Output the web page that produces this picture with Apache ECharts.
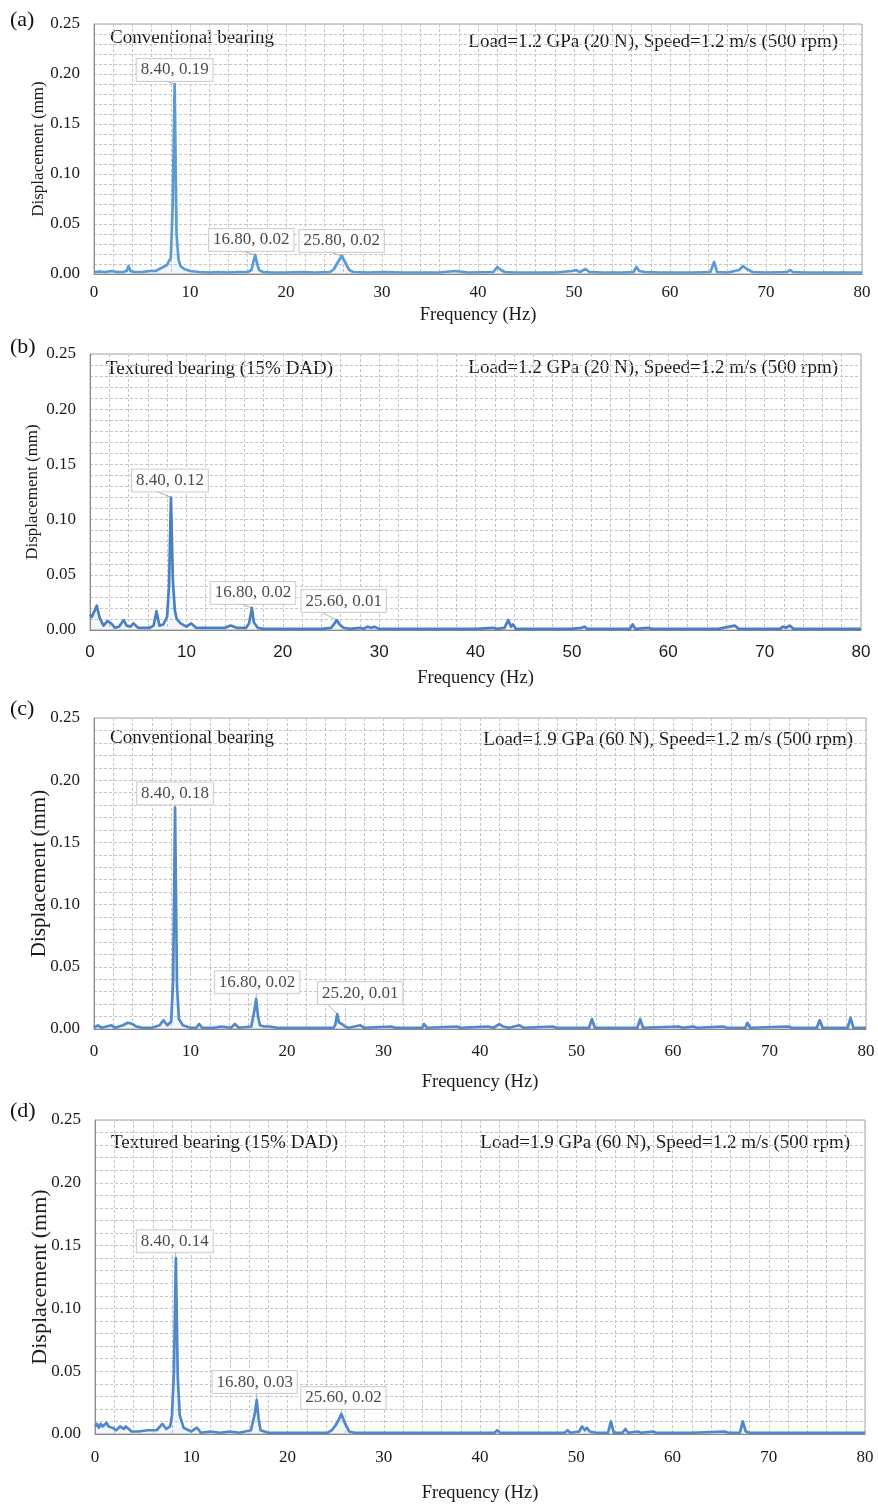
<!DOCTYPE html>
<html>
<head>
<meta charset="utf-8">
<script src="https://cdn.jsdelivr.net/npm/echarts@6/dist/echarts.min.js"></script>
<style>
  html, body { margin: 0; padding: 0; background: #fff; }
  #chart { width: 878px; height: 1504px; }
</style>
</head>
<body>
<div id="chart"></div>
<script>
// spectra: [frequency (Hz), displacement (mm)]
const specA = [[0,0.002],[0.6,0.0025],[1.2,0.002],[1.8,0.003],[2.4,0.002],[3.0,0.002],[3.4,0.003],[3.6,0.008],[3.8,0.003],[4.2,0.002],[5.0,0.002],[5.8,0.003],[6.4,0.003],[6.8,0.005],[7.2,0.007],[7.6,0.009],[7.8,0.013],[8.0,0.016],[8.2,0.07],[8.4,0.19],[8.6,0.04],[8.8,0.015],[9.0,0.008],[9.4,0.005],[10.0,0.003],[11,0.002],[12,0.0015],[13,0.002],[14,0.0015],[15,0.002],[16,0.002],[16.4,0.004],[16.6,0.012],[16.8,0.019],[17.0,0.01],[17.2,0.004],[17.6,0.002],[18.5,0.0015],[20,0.0015],[21.5,0.002],[23,0.0015],[24.6,0.002],[25.0,0.005],[25.4,0.012],[25.8,0.018],[26.2,0.011],[26.6,0.004],[27.0,0.002],[28.5,0.0015],[30.2,0.002],[32,0.0015],[34,0.0015],[36,0.0015],[37.6,0.003],[39,0.0015],[41.6,0.002],[42.0,0.007],[42.4,0.004],[42.8,0.002],[44,0.0015],[46,0.0015],[48,0.0015],[49.8,0.003],[50.2,0.004],[50.6,0.002],[51.2,0.005],[51.6,0.002],[53,0.0015],[55,0.0015],[56.2,0.002],[56.5,0.007],[56.8,0.003],[57.4,0.002],[59,0.0015],[61,0.0015],[62.5,0.0015],[64.2,0.002],[64.6,0.012],[64.9,0.002],[66,0.0015],[67.2,0.004],[67.6,0.008],[68.0,0.005],[68.6,0.002],[70,0.0015],[72.2,0.002],[72.5,0.004],[72.8,0.002],[74,0.0015],[76,0.0015],[78,0.0015],[80,0.0015]];
const specB = [[0,0.014],[0.2,0.012],[0.4,0.016],[0.7,0.022],[1.0,0.011],[1.4,0.004],[1.8,0.008],[2.2,0.006],[2.6,0.002],[3.0,0.003],[3.5,0.009],[3.8,0.004],[4.2,0.003],[4.5,0.006],[5.0,0.002],[5.6,0.002],[6.2,0.002],[6.6,0.004],[6.9,0.017],[7.2,0.004],[7.6,0.005],[8.0,0.012],[8.2,0.04],[8.4,0.12],[8.6,0.045],[8.8,0.018],[9.0,0.01],[9.4,0.006],[10.0,0.003],[10.5,0.006],[11.0,0.002],[12,0.002],[13,0.002],[14,0.002],[14.6,0.004],[15.2,0.002],[16.2,0.002],[16.5,0.006],[16.8,0.02],[17.0,0.007],[17.4,0.002],[18,0.001],[20,0.001],[22,0.001],[24,0.001],[25.0,0.002],[25.3,0.005],[25.6,0.009],[25.9,0.005],[26.3,0.002],[27,0.001],[28,0.002],[28.4,0.001],[28.8,0.003],[29.2,0.002],[29.5,0.003],[30,0.001],[32,0.001],[34,0.001],[36,0.001],[38,0.001],[40,0.001],[41.8,0.002],[42.2,0.001],[43.0,0.002],[43.4,0.009],[43.7,0.003],[43.9,0.005],[44.2,0.001],[46,0.001],[48,0.001],[49.9,0.001],[51.0,0.002],[51.3,0.003],[51.6,0.001],[54,0.001],[56.0,0.001],[56.3,0.005],[56.6,0.001],[57.9,0.002],[58.3,0.001],[60,0.001],[62,0.001],[64,0.001],[65.2,0.001],[66.9,0.004],[67.3,0.001],[69,0.001],[71.6,0.001],[71.9,0.003],[72.2,0.002],[72.6,0.004],[73.0,0.001],[75,0.001],[78,0.001],[80,0.001]];
const specC = [[0,0.001],[0.4,0.003],[0.8,0.001],[1.8,0.003],[2.2,0.001],[3.0,0.003],[3.5,0.005],[4.0,0.004],[4.4,0.002],[5,0.001],[6,0.001],[6.8,0.003],[7.2,0.007],[7.6,0.003],[8.0,0.006],[8.2,0.04],[8.4,0.178],[8.6,0.035],[8.8,0.008],[9.2,0.003],[10,0.001],[10.6,0.001],[10.9,0.004],[11.2,0.001],[12.4,0.001],[13.2,0.002],[14.2,0.001],[14.6,0.004],[15,0.001],[16.3,0.002],[16.6,0.014],[16.8,0.024],[17.0,0.01],[17.2,0.003],[17.6,0.002],[18.2,0.002],[19,0.001],[21,0.001],[23,0.001],[24.8,0.001],[25.0,0.003],[25.2,0.012],[25.4,0.005],[25.7,0.004],[26.0,0.002],[26.4,0.001],[27.6,0.003],[28,0.001],[30.8,0.002],[31.2,0.001],[34.0,0.001],[34.2,0.004],[34.5,0.001],[37.6,0.002],[38,0.001],[40.8,0.002],[41.4,0.001],[42.0,0.004],[42.4,0.002],[43,0.001],[44.1,0.003],[44.5,0.001],[47.5,0.002],[48,0.001],[51.3,0.001],[51.6,0.008],[51.9,0.001],[56.3,0.001],[56.6,0.008],[56.9,0.001],[60.6,0.002],[61,0.001],[62.1,0.002],[62.5,0.001],[65.2,0.002],[65.6,0.001],[67.5,0.001],[67.7,0.005],[68,0.001],[71.9,0.002],[72.3,0.001],[74.9,0.001],[75.2,0.007],[75.5,0.001],[78.1,0.001],[78.4,0.009],[78.7,0.001],[80,0.001]];
const specD = [[0,0.006],[0.2,0.008],[0.4,0.005],[0.6,0.008],[0.8,0.006],[1.0,0.007],[1.2,0.009],[1.4,0.006],[1.8,0.005],[2.0,0.004],[2.2,0.003],[2.6,0.006],[3.0,0.004],[3.2,0.006],[3.4,0.005],[3.8,0.002],[4.5,0.002],[5.5,0.003],[6.4,0.003],[7.0,0.008],[7.4,0.004],[7.8,0.006],[8.0,0.015],[8.2,0.05],[8.4,0.14],[8.6,0.045],[8.8,0.015],[9.2,0.005],[10,0.002],[10.6,0.005],[11,0.001],[12,0.002],[13,0.001],[14,0.002],[15,0.001],[16.2,0.003],[16.6,0.016],[16.8,0.027],[17.0,0.012],[17.2,0.003],[18,0.001],[20,0.001],[22,0.001],[24.2,0.001],[24.6,0.003],[25.0,0.007],[25.3,0.011],[25.6,0.016],[26.0,0.008],[26.4,0.002],[27,0.001],[29,0.001],[32,0.001],[35,0.001],[38,0.001],[41.5,0.001],[41.8,0.003],[42.1,0.001],[46.0,0.001],[46.2,0.002],[46.4,0.001],[48.8,0.001],[49.1,0.003],[49.4,0.001],[50.3,0.002],[50.6,0.006],[50.9,0.003],[51.1,0.005],[51.4,0.002],[51.6,0.003],[52,0.001],[53.3,0.001],[53.6,0.01],[53.9,0.001],[54.8,0.001],[55.1,0.004],[55.4,0.001],[56.4,0.002],[56.7,0.001],[58.0,0.002],[58.3,0.001],[62,0.001],[65.4,0.002],[65.8,0.001],[67.0,0.001],[67.3,0.01],[67.6,0.002],[68,0.001],[70.5,0.001],[73,0.001],[76,0.001],[80,0.001]];

// annotated peaks and their callout texts
const peaksA = [[8.4,0.19],[16.8,0.019],[25.8,0.018]];
const peaksB = [[8.4,0.12],[16.8,0.02],[25.6,0.009]];
const peaksC = [[8.4,0.178],[16.8,0.024],[25.2,0.012]];
const peaksD = [[8.4,0.14],[16.8,0.027],[25.6,0.016]];
const peakTextA = ['8.40, 0.19','16.80, 0.02','25.80, 0.02'];
const peakTextB = ['8.40, 0.12','16.80, 0.02','25.60, 0.01'];
const peakTextC = ['8.40, 0.18','16.80, 0.02','25.20, 0.01'];
const peakTextD = ['8.40, 0.14','16.80, 0.03','25.60, 0.02'];

const panelLetters = ['(a)','(b)','(c)','(d)'];
const bearingNames = ['Conventional bearing','Textured bearing (15% DAD)','Conventional bearing','Textured bearing (15% DAD)'];
const conditions = [
  'Load=1.2 GPa (20 N), Speed=1.2 m/s (500 rpm)',
  'Load=1.2 GPa (20 N), Speed=1.2 m/s (500 rpm)',
  'Load=1.9 GPa (60 N), Speed=1.2 m/s (500 rpm)',
  'Load=1.9 GPa (60 N), Speed=1.2 m/s (500 rpm)'
];

const SERIF = '"Liberation Serif", "Times New Roman", serif';
const SANS = '"Liberation Sans", Arial, sans-serif';

// layout of the four panels
const panels = [
  { spec: specA, peaks: peaksA, texts: peakTextA, left: 94, top: 24, width: 768, height: 250, color: '#5b9bd5',
    xFont: SERIF, yNameSize: 17, xNameGap: 32, xLabelMargin: 10, yNameGap: 47,
    offs: [[0,-14],[-4,-15],[0,-15]], letterY: 21, titleY: 38, condY: 42, condX: 838 },
  { spec: specB, peaks: peaksB, texts: peakTextB, left: 90, top: 354, width: 771, height: 276, color: '#4a7fc4',
    xFont: SANS, yNameSize: 17, xNameGap: 39, xLabelMargin: 14, yNameGap: 49,
    offs: [[-1,-17],[1,-15],[7,-19]], letterY: 348, titleY: 369, condY: 368, condX: 838 },
  { spec: specC, peaks: peaksC, texts: peakTextC, left: 94, top: 718, width: 772, height: 311, color: '#4f88cc',
    xFont: SERIF, yNameSize: 21, xNameGap: 44, xLabelMargin: 14, yNameGap: 44,
    offs: [[0,-14],[1,-17],[23,-21]], letterY: 710, titleY: 738, condY: 740, condX: 853 },
  { spec: specD, peaks: peaksD, texts: peakTextD, left: 95, top: 1120, width: 770, height: 318, color: '#4f88cc',
    xFont: SERIF, yNameSize: 22, xNameGap: 50, xLabelMargin: 15, yNameGap: 44,
    offs: [[-1,-17],[-2,-18],[2,-16]], letterY: 1112, titleY: 1143, condY: 1143, condX: 850 }
];

const gridLine = { color: '#c6c6c6', width: 1, type: [3, 2] };

const option = {
  animation: false,
  backgroundColor: '#fff',
  grid: panels.map(p => ({
    left: p.left, top: p.top, width: p.width, height: p.height,
    show: true, borderColor: '#a8a8a8', borderWidth: 1, backgroundColor: 'transparent'
  })),
  xAxis: panels.map((p, i) => ({
    type: 'value', gridIndex: i, min: 0, max: 80, interval: 10,
    name: 'Frequency (Hz)', nameLocation: 'middle', nameGap: p.xNameGap, nameMoveOverlap: false,
    nameTextStyle: { fontFamily: SERIF, fontSize: 18.5, color: '#1a1a1a' },
    axisLine: { show: true, lineStyle: { color: '#8a8a8a', width: 1 } },
    axisTick: { show: false },
    axisLabel: { fontFamily: p.xFont, fontSize: 17, color: '#1a1a1a', margin: p.xLabelMargin },
    splitLine: { show: true, lineStyle: gridLine },
    minorTick: { show: false, splitNumber: 5 },
    minorSplitLine: { show: true, lineStyle: gridLine }
  })),
  yAxis: panels.map((p, i) => ({
    type: 'value', gridIndex: i, min: 0, max: 0.25, interval: 0.05,
    name: 'Displacement (mm)', nameLocation: 'middle', nameGap: p.yNameGap, nameRotate: 90,
    nameMoveOverlap: false,
    nameTextStyle: { fontFamily: SERIF, fontSize: p.yNameSize, color: '#1a1a1a' },
    axisLine: { show: true, lineStyle: { color: '#8a8a8a', width: 1 } },
    axisTick: { show: false },
    axisLabel: { fontFamily: SERIF, fontSize: 17, color: '#1a1a1a', margin: 14,
      formatter: v => v.toFixed(2) },
    splitLine: { show: true, lineStyle: gridLine },
    minorTick: { show: false, splitNumber: 5 },
    minorSplitLine: { show: true, lineStyle: gridLine }
  })),
  series: [],
  graphic: []
};

panels.forEach((p, i) => {
  option.series.push({
    type: 'line', xAxisIndex: i, yAxisIndex: i, data: p.spec,
    symbol: 'none', silent: true,
    lineStyle: { color: p.color, width: 2.7, join: 'round' },
    areaStyle: { color: 'rgba(91,155,213,0.12)' }
  });
  option.series.push({
    type: 'scatter', xAxisIndex: i, yAxisIndex: i, silent: true,
    data: p.peaks.map((v, j) => ({ value: v, name: p.texts[j] })),
    symbolSize: 0,
    label: {
      show: true, position: 'inside', formatter: '{b}',
      fontFamily: SERIF, fontSize: 17, color: '#1a1a1a',
      backgroundColor: '#fff', borderColor: '#c4c4c4', borderWidth: 1, padding: [3, 4, 2, 4]
    },
    labelLayout: params => ({ dx: p.offs[params.dataIndex][0], dy: p.offs[params.dataIndex][1] }),
    labelLine: { show: true, lineStyle: { color: '#b0b0b0', width: 1 } }
  });
  option.graphic.push({
    type: 'text', left: 10, top: p.letterY - 12,
    style: { text: panelLetters[i], font: '22px ' + SERIF, fill: '#111' }
  });
  option.graphic.push({
    type: 'text', x: p.left + 16, y: p.titleY,
    style: { text: bearingNames[i], font: '19px ' + SERIF, fill: '#1a1a1a', verticalAlign: 'middle' }
  });
  option.graphic.push({
    type: 'text', x: p.condX, y: p.condY,
    style: { text: conditions[i], font: '19px ' + SERIF, fill: '#1a1a1a', align: 'right', verticalAlign: 'middle' }
  });
});

const chart = echarts.init(document.getElementById('chart'));
chart.setOption(option);
</script>
</body>
</html>
